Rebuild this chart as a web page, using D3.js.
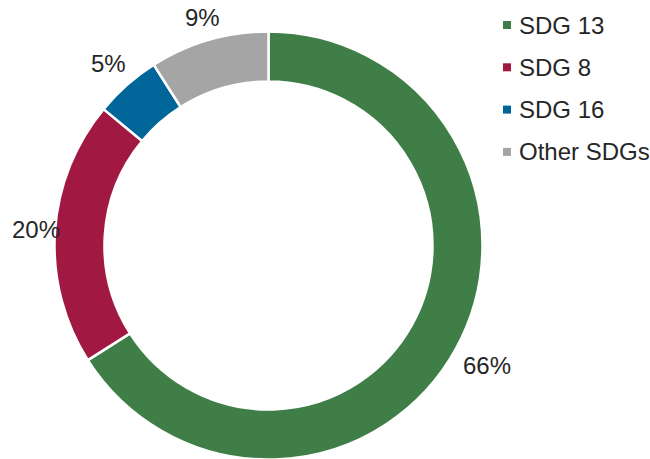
<!DOCTYPE html>
<html>
<head>
<meta charset="utf-8">
<script src="https://cdn.jsdelivr.net/npm/d3@7"></script>
<style>
  body { margin: 0; background: #fff; }
  text { font-family: "Liberation Sans", Arial, sans-serif; fill: #262626; }
</style>
</head>
<body>
<script>
const width = 650;
const height = 459;

const categories = ['SDG 13', 'SDG 8', 'SDG 16', 'Other SDGs'];
const shares = [66, 20, 5, 9];
const colors = ['#3f7f47', '#a11942', '#006699', '#a5a5a5'];

const cx = 268.5, cy = 245.5;
const outerR = 214, innerR = 164;

const svg = d3.select('body').append('svg')
    .attr('width', width)
    .attr('height', height);

const data = categories.map((c, i) => ({name: c, value: shares[i], color: colors[i]}));

const pie = d3.pie().sort(null).value(d => d.value);
const arc = d3.arc().innerRadius(innerR).outerRadius(outerR);
const arcs = pie(data);

const g = svg.append('g').attr('transform', `translate(${cx},${cy})`);

g.selectAll('path')
    .data(arcs)
    .enter().append('path')
    .attr('d', arc)
    .attr('fill', d => d.data.color)
    .attr('stroke', '#fff')
    .attr('stroke-width', 2.5);

// labels just outside the ring, pushed back inside the page if needed
const fontSize = 24;
const lbl = g.append('g').attr('font-size', fontSize);
arcs.forEach(d => {
    const t = lbl.append('text')
        .attr('text-anchor', 'middle')
        .attr('dominant-baseline', 'central')
        .text(d.data.value + '%');
    const bb = t.node().getBBox();
    const hw = bb.width / 2, hh = 9;
    const a = (d.startAngle + d.endAngle) / 2;
    const s = Math.sin(a), c = -Math.cos(a);
    const r = outerR + 10 + Math.abs(s) * hw + Math.abs(c) * hh;
    let x = r * s, y = r * c;
    if (cx + x - hw < 12) x = 12 + hw - cx;
    t.attr('x', x).attr('y', y);
});

// legend
const legend = svg.append('g').attr('transform', 'translate(503,25)');
const row = legend.selectAll('g')
    .data(data)
    .enter().append('g')
    .attr('transform', (d, i) => `translate(0,${i * 42.3})`);
row.append('rect')
    .attr('x', 0).attr('y', -4)
    .attr('width', 8).attr('height', 8)
    .attr('fill', d => d.color);
row.append('text')
    .attr('x', 16)
    .attr('dominant-baseline', 'central')
    .attr('font-size', fontSize)
    .text(d => d.name);
</script>
</body>
</html>
